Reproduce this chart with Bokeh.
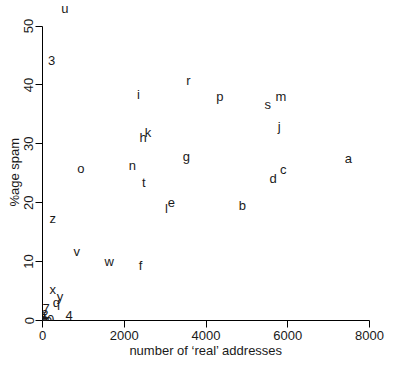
from bokeh.plotting import figure
from bokeh.models import ColumnDataSource, LabelSet, Range1d, FixedTicker, Title
from bokeh.core.properties import value
from bokeh.embed import file_html
from bokeh.resources import INLINE

labels = ["a", "b", "c", "d", "e", "f", "g", "h", "i", "j", "k", "l", "m",
          "n", "o", "p", "q", "r", "s", "t", "u", "v", "w", "x", "y", "z",
          "0", "1", "2", "3", "4", "5", "6", "7", "8", "9"]
real_addresses = [7480, 4890, 5890, 5640, 3150, 2400, 3520, 2460, 2350, 5790, 2580, 3030, 5830,
                  2200, 940, 4340, 340, 3570, 5510, 2480, 550, 840, 1630, 250, 430, 250,
                  200, 40, 60, 220, 650, 20, 70, 90, 50, 150]
pct_spam = [27.5, 19.5, 25.6, 24.1, 20.1, 9.4, 27.8, 31.1, 38.3, 33.0, 31.9, 19.0, 38.1,
            26.4, 25.8, 38.1, 3.1, 40.8, 36.7, 23.5, 52.9, 11.8, 10.1, 5.3, 4.0, 17.3,
            0.1, 0.6, 1.0, 44.1, 0.8, 0.3, -0.2, 2.0, 0.0, -0.1]
x_ticks = [0, 2000, 4000, 6000, 8000]
y_ticks = [0, 10, 20, 30, 40, 50]

FONT = "Liberation Sans"
INK = "#1a1a1a"

p = figure(width=400, height=365, output_backend="svg", toolbar_location=None,
           x_range=Range1d(0, 8000), y_range=Range1d(0, 54),
           min_border_left=42, min_border_right=31, min_border_top=2, min_border_bottom=45)
p.outline_line_color = None
p.xgrid.visible = False
p.ygrid.visible = False
p.background_fill_color = "white"
p.border_fill_color = "white"

src = ColumnDataSource(dict(x=real_addresses, y=pct_spam, label=labels))
p.add_layout(LabelSet(x="x", y="y", text="label", source=src, text_align="center",
                      text_baseline="middle", text_font_size="13px", text_font=value(FONT),
                      text_color=INK))

for ax, ticks in ((p.xaxis[0], x_ticks), (p.yaxis[0], y_ticks)):
    ax.ticker = FixedTicker(ticks=ticks)
    ax.bounds = (ticks[0], ticks[-1])
    ax.axis_line_color = "black"
    ax.axis_line_width = 1
    ax.major_tick_line_color = "black"
    ax.major_tick_out = 7
    ax.major_tick_in = 0
    ax.minor_tick_line_color = None
    ax.major_label_text_font = FONT
    ax.major_label_text_font_size = "13px"
    ax.major_label_text_color = INK
    ax.axis_label_text_font = FONT
    ax.axis_label_text_font_size = "13px"
    ax.axis_label_text_font_style = "normal"
    ax.axis_label_text_color = INK

p.xaxis.axis_label = "number of \u2018real\u2019 addresses"
p.xaxis.major_label_standoff = 3
p.xaxis.axis_label_standoff = 0
p.yaxis.major_label_orientation = "vertical"
p.yaxis.major_label_standoff = 2

# y-axis title, centred on the 0-50 span of the axis rather than on the frame
p.add_layout(Title(text="%age spam", align="left", offset=114, standoff=0,
                   text_font=FONT, text_font_size="13px", text_font_style="normal",
                   text_color=INK), "left")

open("out.html", "w").write(file_html(p, INLINE))
